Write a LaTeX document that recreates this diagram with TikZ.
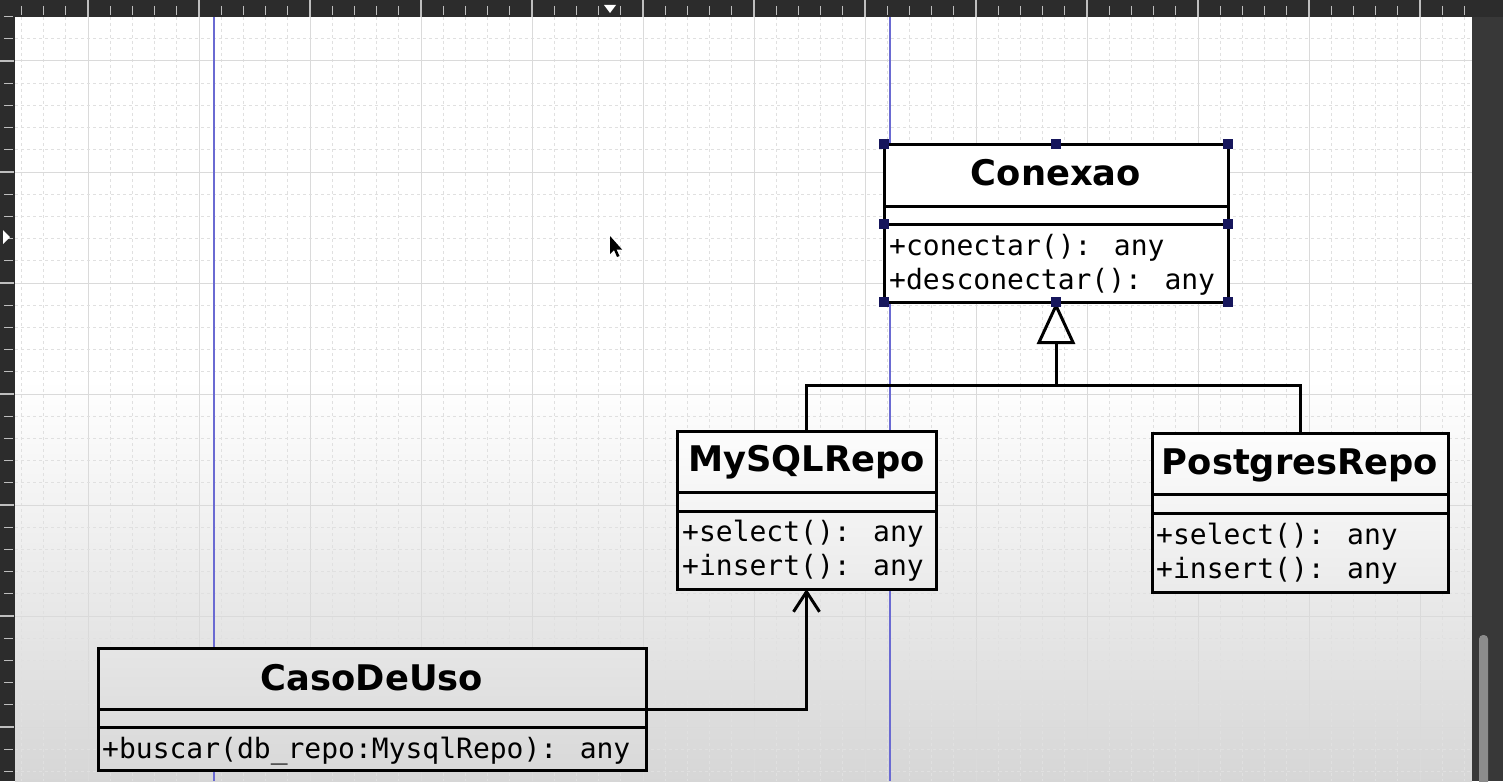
\documentclass[tikz,border=0pt]{standalone}
\usepackage{fontspec}
\newfontfamily\umlsans{DejaVu Sans}
\newfontfamily\umlmono{DejaVu Sans Mono}
\usetikzlibrary{arrows.meta,calc}
\definecolor{rulerbg}{HTML}{2C2C2C}
\definecolor{tickc}{HTML}{BEBEBE}
\definecolor{gridmaj}{HTML}{DADADA}
\definecolor{gridmin}{HTML}{E0E0E0}
\definecolor{guide}{HTML}{6A6AD2}
\definecolor{handle}{HTML}{16165C}
\definecolor{sidebar}{HTML}{383838}
\definecolor{thumb}{HTML}{8C8C8C}
\begin{document}
\begin{tikzpicture}[x=1pt,y=-1pt,
  umlbox/.style={draw=black, line width=3pt, rectangle, inner sep=0pt, outer sep=0pt, anchor=north west},
  umltitle/.style={font=\umlsans\bfseries\fontsize{35.3}{41}\selectfont, anchor=base, inner sep=0pt},
  umlop/.style={font=\umlmono\fontsize{28}{34}\selectfont, anchor=base west, inner sep=0pt},
  umlline/.style={line width=3pt},
  tickline/.style={tickc, line width=1.2pt},
  gridmajor/.style={gridmaj, line width=1pt},
  gridminor/.style={gridmin, line width=0.9pt, dash pattern=on 3pt off 3pt},
  selhandle/.style={fill=handle, minimum size=9.5pt, inner sep=0pt, rectangle}]
\useasboundingbox (0,0) rectangle (1503,781);
% canvas background
\fill[white] (15,17) rectangle (1472,381);
\shade[top color=white, bottom color=black!16] (15,380) rectangle (1472,781);
% grid
\begin{scope}
\clip (15,17) rectangle (1472,781);
\foreach \m in {-1,...,12}{
  \draw[gridmajor] ({88+111*\m},17) -- ({88+111*\m},781);
  \foreach \j in {1,2,3,4}{
    \draw[gridminor] ({88+111*\m+22.2*\j},17) -- ({88+111*\m+22.2*\j},781);
  }
}
\foreach \m in {-1,...,7}{
  \draw[gridmajor] (15,{61+111*\m}) -- (1472,{61+111*\m});
  \foreach \j in {1,2,3,4}{
    \draw[gridminor] (15,{61+111*\m+22.2*\j}) -- (1472,{61+111*\m+22.2*\j});
  }
}
\end{scope}
% guides
\draw[guide, line width=1.5pt] (214,17) -- (214,781);
\draw[guide, line width=1.5pt] (890,17) -- (890,781);
% rulers
\fill[rulerbg] (0,0) rectangle (1503,17);
\fill[rulerbg] (0,0) rectangle (15,781);
\fill[sidebar] (1472,17) rectangle (1503,781);
\fill[thumb, rounded corners=4pt] (1479,635) rectangle (1488,790);
\begin{scope}
\clip (15,0) rectangle (1472,17);
\foreach \m in {-1,...,12}{
  \draw[tickline] ({88+111*\m},0) -- ({88+111*\m},17);
  \foreach \j in {1,2,3,4}{
    \draw[tickline] ({88+111*\m+22.2*\j},6) -- ++(0,9);
  }
}
\end{scope}
\begin{scope}
\clip (0,17) rectangle (15,781);
\foreach \m in {-1,...,7}{
  \draw[tickline] (0,{61+111*\m}) -- (14,{61+111*\m});
  \foreach \j in {1,2,3,4}{
    \draw[tickline] (4,{61+111*\m+22.2*\j}) -- ++(9,0);
  }
}
\end{scope}
\fill[white] (604,5) -- (616,5) -- (610,13) -- cycle;
\fill[white] (3,230) -- (3,244) -- (10,237) -- cycle;
% mouse pointer
\fill[black] (610,236) -- (610,254) -- (614,250) -- (617,257) -- (619.5,256) -- (616.5,249.5) -- (622,249.5) -- cycle;

% ===== Conexao =====
\node[umlbox, fill=white, minimum width=344pt, minimum height=158pt] (conexao) at (884,144) {};
\node[umltitle] (conexaoT) at (1056,185) {Conexao};
\draw[umlline] ($(conexao.north west)+(0,62)$) -- ($(conexao.north east)+(0,62)$);
\draw[umlline] ($(conexao.north west)+(0,80)$) -- ($(conexao.north east)+(0,80)$);
\node[umlop] (conexaoOp1) at (889,255) {+conectar(): any};
\node[umlop] (conexaoOp2) at (889,289) {+desconectar(): any};

% ===== MySQLRepo =====
\node[umlbox, top color=black!1, bottom color=black!8, minimum width=259pt, minimum height=158pt] (mysql) at (677,431) {};
\node[umltitle] (mysqlT) at (806.5,471) {MySQLRepo};
\draw[umlline] ($(mysql.north west)+(0,61)$) -- ($(mysql.north east)+(0,61)$);
\draw[umlline] ($(mysql.north west)+(0,80)$) -- ($(mysql.north east)+(0,80)$);
\node[umlop] (mysqlOp1) at (682,541) {+select(): any};
\node[umlop] (mysqlOp2) at (682,575) {+insert(): any};

% ===== PostgresRepo =====
\node[umlbox, top color=black!1, bottom color=black!8, minimum width=296pt, minimum height=159pt] (postgres) at (1152,433) {};
\node[umltitle] (postgresT) at (1300,474) {PostgresRepo};
\draw[umlline] ($(postgres.north west)+(0,61)$) -- ($(postgres.north east)+(0,61)$);
\draw[umlline] ($(postgres.north west)+(0,80)$) -- ($(postgres.north east)+(0,80)$);
\node[umlop] (postgresOp1) at (1156,544) {+select(): any};
\node[umlop] (postgresOp2) at (1156,578) {+insert(): any};

% ===== CasoDeUso =====
\node[umlbox, top color=black!10, bottom color=black!15, minimum width=548pt, minimum height=122pt] (caso) at (98,648) {};
\node[umltitle] (casoT) at (372,690) {CasoDeUso};
\draw[umlline] ($(caso.north west)+(0,61)$) -- ($(caso.north east)+(0,61)$);
\draw[umlline] ($(caso.north west)+(0,79)$) -- ($(caso.north east)+(0,79)$);
\node[umlop] (casoOp1) at (102,758) {+buscar(db\_repo:MysqlRepo): any};

% ===== connectors =====
\coordinate (gj) at (1056,385);
\draw[umlline] (mysql.north) |- (gj) -| (postgres.north);
\draw[umlline, -{Triangle[open, length=42pt, width=38pt]}] (gj) -- (conexao.south);
\coordinate (casoOut) at ($(caso.north east)+(0,61)$);
\draw[umlline, -{Straight Barb[length=20pt, width=26pt]}] (casoOut) -| (mysql.south);

% selection handles
\foreach \a in {north west, north, north east, south west, south, south east}{
  \node[selhandle] at (conexao.\a) {};
}
\node[selhandle] at ($(conexao.north west)+(0,80)$) {};
\node[selhandle] at ($(conexao.north east)+(0,80)$) {};
\end{tikzpicture}
\end{document}
